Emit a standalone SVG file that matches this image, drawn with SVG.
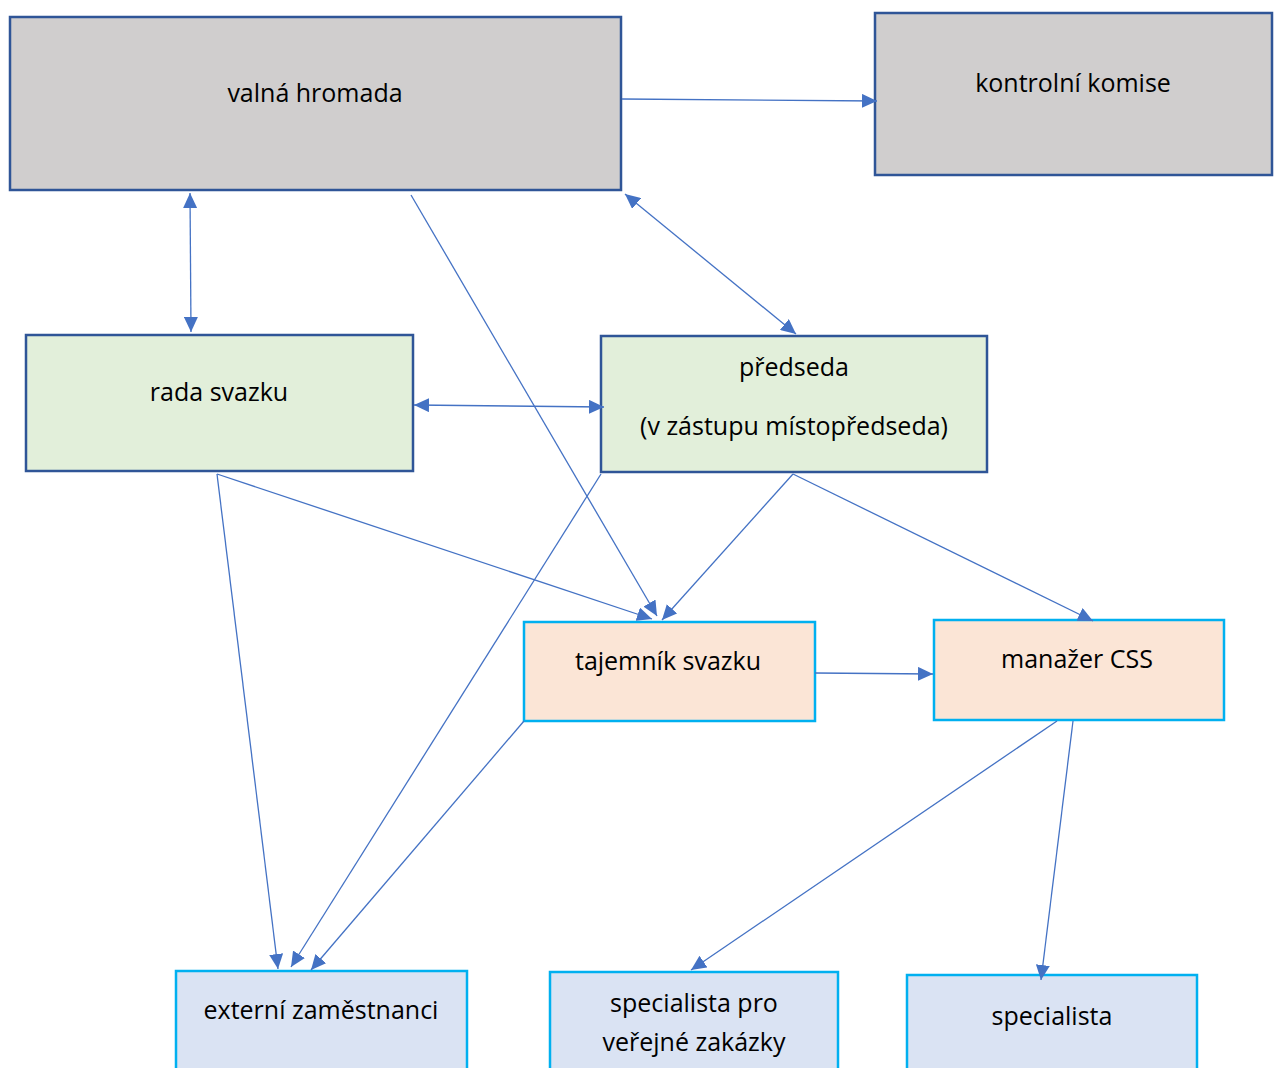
<svg xmlns="http://www.w3.org/2000/svg" width="1278" height="1068" viewBox="0 0 1278 1068">
<style>
.t{font-family:"Open Sans","Liberation Sans",sans-serif;font-size:25px;fill:#000;text-anchor:middle}
.g{fill:#d0cece;stroke:#2f5597;stroke-width:2.5}
.gr{fill:#e2efda;stroke:#2f5597;stroke-width:2.5}
.o{fill:#fbe5d6;stroke:#00b0f0;stroke-width:2.5}
.b{fill:#dae3f3;stroke:#00b0f0;stroke-width:2.5}
.c{stroke:#4472c4;stroke-width:1.3;fill:none;marker-end:url(#a)}
.d{marker-start:url(#a)}
</style>
<defs>
<marker id="a" markerUnits="userSpaceOnUse" markerWidth="16" markerHeight="14" refX="15" refY="7" orient="auto-start-reverse" viewBox="0 0 16 14">
<path d="M0,0 L15,7 L0,14 z" fill="#4472c4"/>
</marker>
</defs>
<rect width="1278" height="1068" fill="#fff"/>
<g id="valna-hromada"><rect class="g" x="10" y="17" width="611" height="173"/><text class="t" x="315" y="102">valná hromada</text></g>
<g id="kontrolni-komise"><rect class="g" x="875" y="13" width="397" height="162"/><text class="t" x="1073" y="92">kontrolní komise</text></g>
<g id="rada-svazku"><rect class="gr" x="26" y="335" width="387" height="136"/><text class="t" x="219" y="401">rada svazku</text></g>
<g id="predseda"><rect class="gr" x="601" y="336" width="386" height="136"/><text class="t" x="794" y="376">předseda</text><text class="t" x="794" y="435">(v zástupu místopředseda)</text></g>
<g id="tajemnik-svazku"><rect class="o" x="524" y="622" width="291" height="99"/><text class="t" x="668" y="670">tajemník svazku</text></g>
<g id="manazer-css"><rect class="o" x="934" y="620" width="290" height="100"/><text class="t" x="1077" y="668">manažer CSS</text></g>
<g id="externi-zamestnanci"><rect class="b" x="176" y="971" width="291" height="110"/><text class="t" x="321" y="1019">externí zaměstnanci</text></g>
<g id="specialista-vz"><rect class="b" x="550" y="972" width="288" height="110"/><text class="t" x="694" y="1012">specialista pro</text><text class="t" x="694" y="1051">veřejné zakázky</text></g>
<g id="specialista"><rect class="b" x="907" y="975" width="290" height="110"/><text class="t" x="1052" y="1025">specialista</text></g>
<g id="connectors">
<line class="c" x1="622" y1="99" x2="877" y2="101"/>
<line class="c d" x1="190" y1="193" x2="191" y2="332"/>
<line class="c d" x1="414" y1="405" x2="604" y2="407"/>
<line class="c d" x1="625" y1="194" x2="796" y2="334"/>
<line class="c" x1="411" y1="195" x2="657" y2="616"/>
<line class="c" x1="217" y1="474" x2="652" y2="619"/>
<line class="c" x1="793" y1="474" x2="662" y2="620"/>
<line class="c" x1="793" y1="474" x2="1093" y2="621"/>
<line class="c" x1="815" y1="673" x2="933" y2="674"/>
<line class="c" x1="217" y1="474" x2="278" y2="969"/>
<line class="c" x1="601" y1="474" x2="291" y2="967"/>
<line class="c" x1="524" y1="721" x2="311" y2="970"/>
<line class="c" x1="1057" y1="721" x2="691" y2="970"/>
<line class="c" x1="1073" y1="721" x2="1041" y2="980"/>
</g>
</svg>
